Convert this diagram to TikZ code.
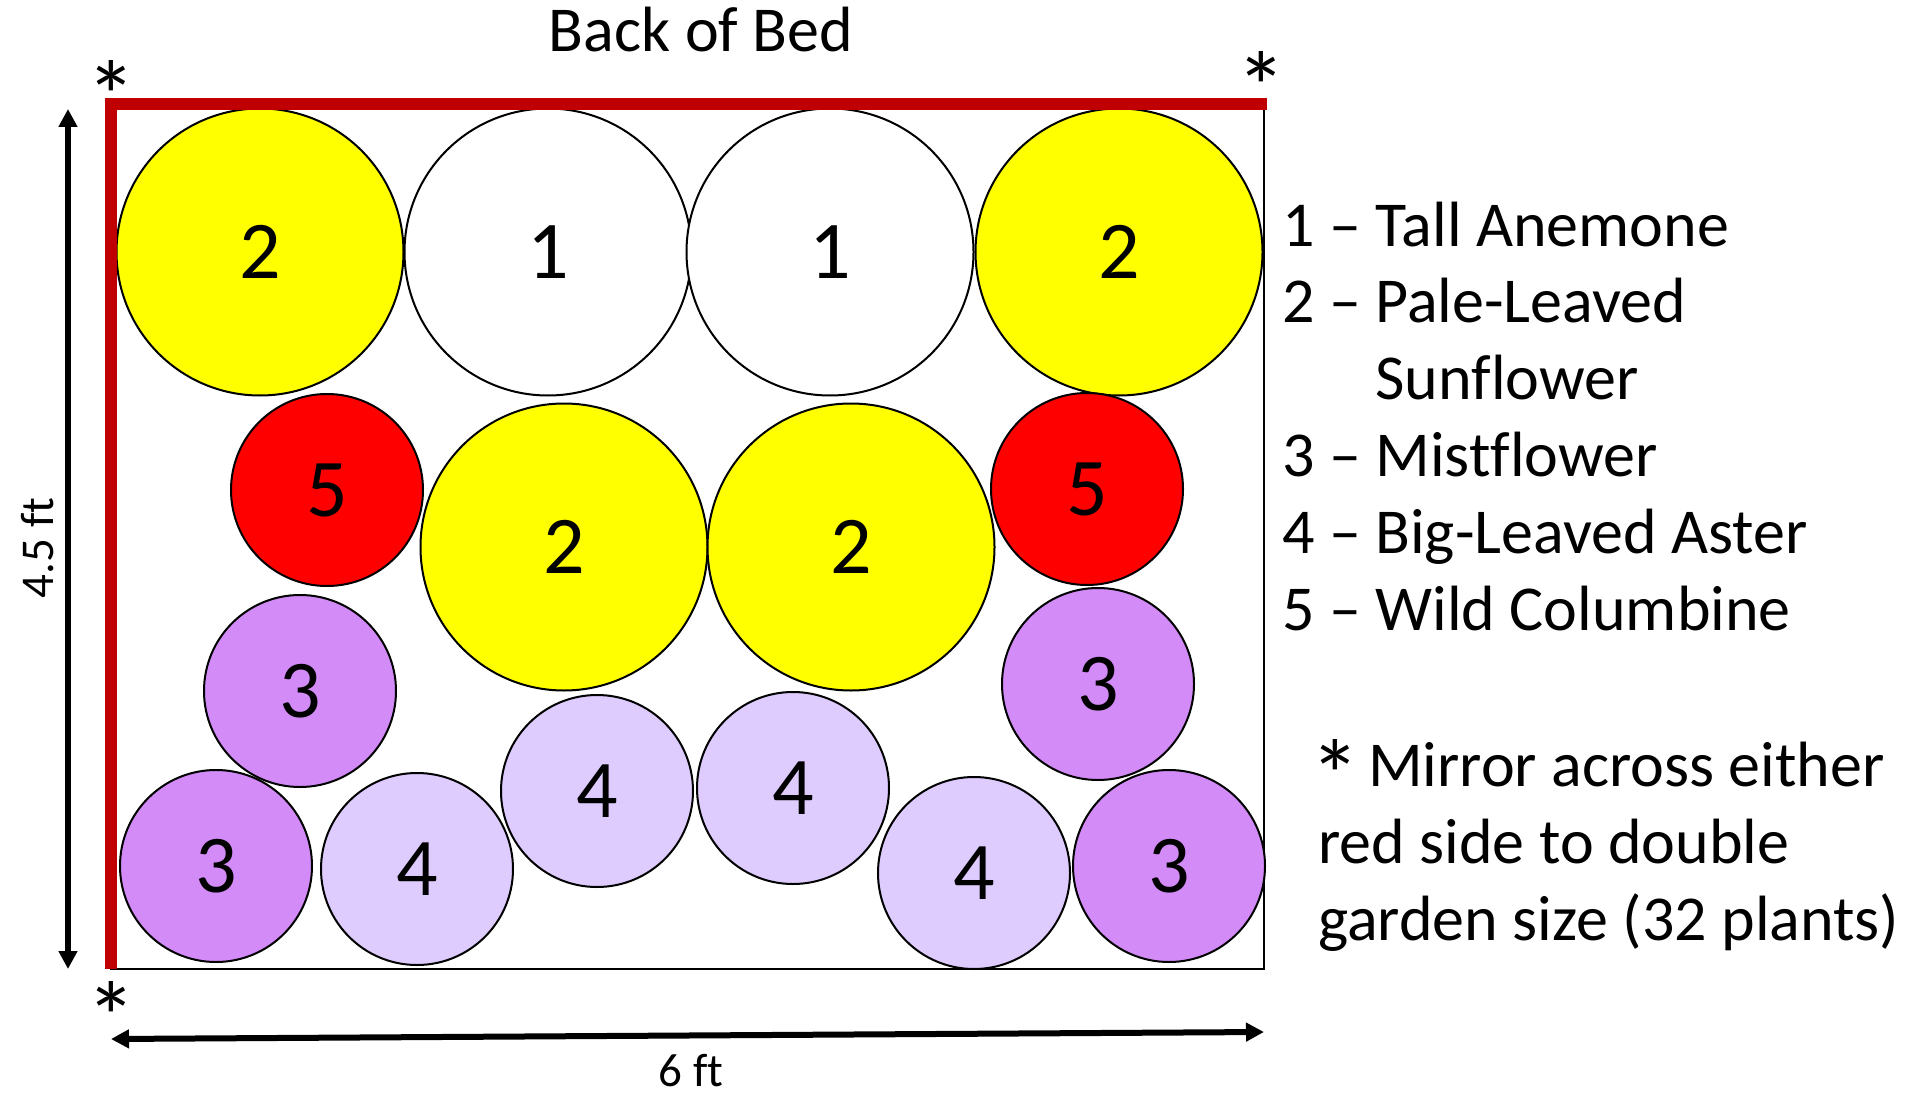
\documentclass[tikz,border=0pt]{standalone}
\usepackage{fontspec}
\setmainfont{Carlito}[Ligatures=NoCommon]
\usetikzlibrary{arrows.meta}
\definecolor{bedred}{HTML}{C00000}
\definecolor{sunyellow}{HTML}{FFFF00}
\definecolor{colred}{HTML}{FF0000}
\definecolor{mistpurple}{HTML}{D38BF8}
\definecolor{asterlav}{HTML}{DFCCFF}
\begin{document}
\begin{tikzpicture}[x=1pt,y=-1pt,
  plant/.style={circle,draw=black,line width=2pt,inner sep=0pt,font=\fontsize{82}{82}\selectfont},
  bigplant/.style={plant,minimum size=287pt},
  smallplant/.style={plant,minimum size=192pt},
  anem/.style={bigplant,fill=white},
  sunf/.style={bigplant,fill=sunyellow},
  colum/.style={smallplant,fill=colred},
  mist/.style={smallplant,fill=mistpurple},
  aster/.style={smallplant,fill=asterlav},
  lbl/.style={inner sep=0pt,font=\fontsize{64}{76.8}\selectfont},
  starlbl/.style={inner sep=0pt,font=\fontsize{100}{100}\selectfont},
  dimlbl/.style={inner sep=0pt,font=\fontsize{47}{50}\selectfont},
  dimarrow/.style={line width=6pt,{Triangle[length=18pt,width=18pt]}-{Triangle[length=18pt,width=18pt]}},
  edge/.style={bedred,line width=12pt}]
\useasboundingbox (0,0) rectangle (1911,1094);
\fill[white] (0,0) rectangle (1911,1094);
% bed outline
\draw[line width=2.5pt] (111,105) rectangle (1264,969);
% plants
\node[sunf]  (p1)  at (260,252) {2};
\node[anem]  (p2)  at (548,252) {1};
\node[anem]  (p3)  at (830,252) {1};
\node[sunf]  (p4)  at (1119,252) {2};
\node[colum] (p5)  at (327,490) {5};
\node[sunf]  (p6)  at (564,547) {2};
\node[sunf]  (p7)  at (851,547) {2};
\node[colum] (p8)  at (1087,489) {5};
\node[mist]  (p9)  at (300,691) {3};
\node[mist]  (p10) at (1098,684) {3};
\node[mist]  (p11) at (216,866) {3};
\node[aster] (p12) at (417,869) {4};
\node[aster] (p13) at (597,791) {4};
\node[aster] (p14) at (793,788) {4};
\node[aster] (p15) at (974,873) {4};
\node[mist]  (p16) at (1169,866) {3};
% red sides
\coordinate (rtop) at (111,98);
\coordinate (rbot) at (111,969);
\coordinate (tl) at (111,104.5);
\coordinate (tr) at (1267,104.5);
\draw[edge] (rtop) -- (rbot);
\draw[edge] (tl) -- (tr);
% stars
\node[starlbl,anchor=base] (s1) at (111,132) {*};
\node[starlbl,anchor=base] (s2) at (1261,123) {*};
\node[starlbl,anchor=base] (s3) at (111,1052) {*};
% title
\node[lbl,anchor=base] (title) at (701,52) {Back of Bed};
% dimension arrows
\coordinate (va) at (68,109);
\coordinate (vb) at (68,969);
\draw[dimarrow] (va) -- (vb);
\node[dimlbl,rotate=90,anchor=base] (hl) at (53,548) {4.5 ft};
\coordinate (ha) at (111,1039);
\coordinate (hb) at (1264,1032);
\draw[dimarrow] (ha) -- (hb);
\node[dimlbl,anchor=base] (wl) at (691,1086) {6 ft};
% legend
\node[lbl,anchor=base west] (l1) at (1282,246) {1 – Tall Anemone};
\node[lbl,anchor=base west] (l2) at (1282,322.8) {2 – Pale-Leaved};
\node[lbl,anchor=base west] (l2b) at (1282,399.6) {\phantom{2 – }Sunflower};
\node[lbl,anchor=base west] (l3) at (1282,476.4) {3 – Mistflower};
\node[lbl,anchor=base west] (l4) at (1282,553.2) {4 – Big-Leaved Aster};
\node[lbl,anchor=base west] (l5) at (1282,630) {5 – Wild Columbine};
% note
\node[lbl,anchor=base west] (n1) at (1310,786) {\raisebox{-24pt}[0pt][0pt]{\fontsize{100}{100}\selectfont *}\hspace{8pt}Mirror across either};
\node[lbl,anchor=base west] (n2) at (1318,863) {red side to double};
\node[lbl,anchor=base west] (n3) at (1318,940) {garden size (32 plants)};
\end{tikzpicture}
\end{document}
